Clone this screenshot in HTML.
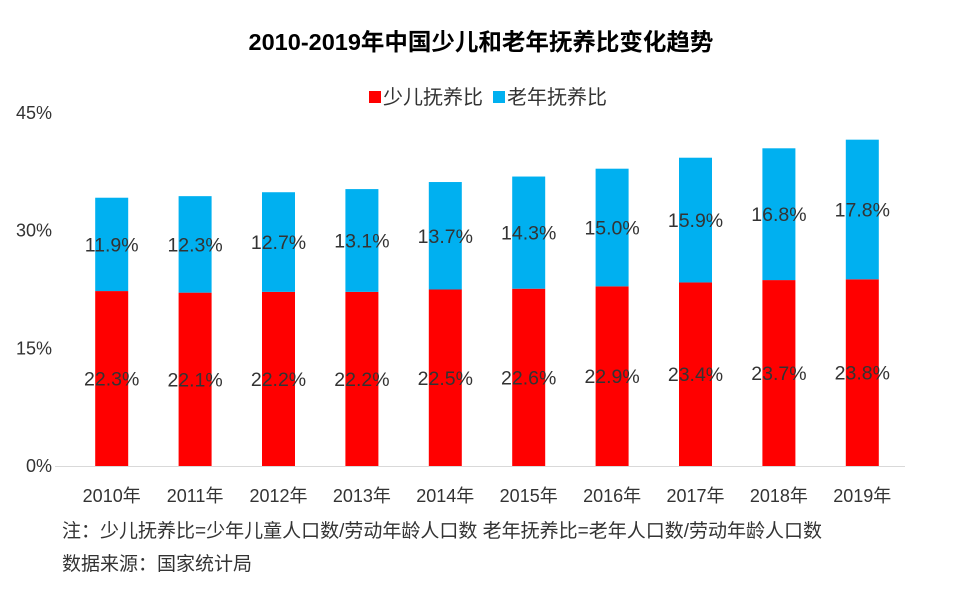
<!DOCTYPE html>
<html><head><meta charset="utf-8">
<style>
body{margin:0;background:#fff;}
svg text{font-family:"Liberation Sans","Noto Sans CJK SC",sans-serif;}
</style></head>
<body>
<svg width="960" height="596" xmlns="http://www.w3.org/2000/svg">
<rect width="960" height="596" fill="#fff"/>
<text x="481" y="50" text-anchor="middle" font-size="23.5" font-weight="bold" fill="#000">2010-2019年中国少儿和老年抚养比变化趋势</text>
<g>
<rect x="369" y="91" width="12" height="12" fill="#ff0000"/>
<text x="383" y="104" font-size="20" fill="#333">少儿抚养比</text>
<rect x="493" y="91" width="12" height="12" fill="#00b0f0"/>
<text x="507" y="104" font-size="20" fill="#333">老年抚养比</text>
</g>
<g id="plot"></g>
<text x="62" y="537" font-size="19" fill="#333">注：少儿抚养比=少年儿童人口数/劳动年龄人口数  老年抚养比=老年人口数/劳动年龄人口数</text>
<text x="62" y="570" font-size="19" fill="#333">数据来源：国家统计局</text>
</svg>
<script>
const categories=["2010年","2011年","2012年","2013年","2014年","2015年","2016年","2017年","2018年","2019年"];
const youth=[22.3,22.1,22.2,22.2,22.5,22.6,22.9,23.4,23.7,23.8];
const elderly=[11.9,12.3,12.7,13.1,13.7,14.3,15.0,15.9,16.8,17.8];
const yTicks=[0,15,30,45];
const NS="http://www.w3.org/2000/svg";
const g=document.getElementById('plot');
const y0=466,yTop=113,yMax=45;
const y=v=>y0-(v/yMax)*(y0-yTop);
const x=i=>111.7+i*83.4;
const bw=33;
function mk(t,a){const e=document.createElementNS(NS,t);for(const k in a)e.setAttribute(k,a[k]);g.appendChild(e);return e;}
yTicks.forEach(t=>{
  const e=mk('text',{x:52,y:y(t)+6,'text-anchor':'end','font-size':18,fill:'#333'});
  e.textContent=t+'%';
  
  
});
const ax=mk('line',{x1:55,x2:905,y1:y0+0.5,y2:y0+0.5,stroke:'#d9d9d9','stroke-width':1});


categories.forEach((c,i)=>{
  const cx=x(i);
  const r=mk('rect',{x:cx-bw/2,y:y(youth[i]),width:bw,height:y0-y(youth[i]),fill:'#ff0000'});
  
  
  const b=mk('rect',{x:cx-bw/2,y:y(youth[i]+elderly[i]),width:bw,height:y(youth[i])-y(youth[i]+elderly[i]),fill:'#00b0f0'});
  
  
  const l1=mk('text',{x:cx,y:(y(youth[i])+y0)/2+7,'text-anchor':'middle','font-size':19.5,fill:'#333'});
  l1.textContent=youth[i].toFixed(1)+'%';
  
  
  const l2=mk('text',{x:cx,y:(y(youth[i])+y(youth[i]+elderly[i]))/2+7,'text-anchor':'middle','font-size':19.5,fill:'#333'});
  l2.textContent=elderly[i].toFixed(1)+'%';
  
  
  const xl=mk('text',{x:cx,y:502,'text-anchor':'middle','font-size':18,fill:'#333'});
  xl.textContent=c;
  
  
});
</script>
</body></html>
